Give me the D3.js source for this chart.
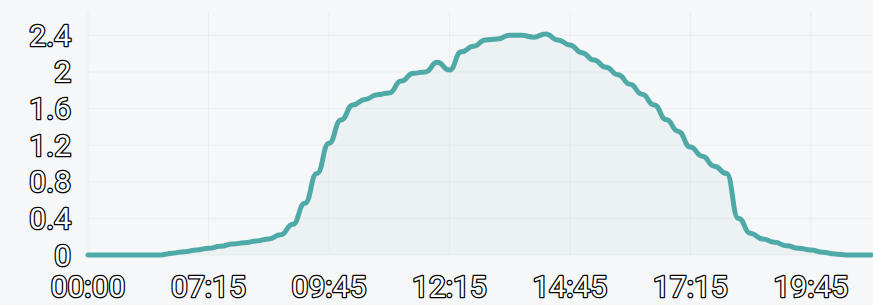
<!DOCTYPE html>
<html>
<head>
<meta charset="utf-8">
<script src="https://cdn.jsdelivr.net/npm/d3@7"></script>
<style>
  html, body { margin: 0; padding: 0; background: #f6f7f9; }
  svg { display: block; }
  .lbl { font-family: Roboto, sans-serif; font-size: 30px; fill: #fff; stroke: #000; stroke-width: 2.6px; paint-order: stroke; stroke-linejoin: round; }
</style>
</head>
<body>
<svg id="chart"></svg>
<script>
// times: 00:00, then 05:00 .. 21:00 every 15 min
var times = ['00:00']
for (var m = 5 * 60; m <= 21 * 60; m += 15) {
    times.push(String(Math.floor(m / 60)).padStart(2, '0') + ':' + String(m % 60).padStart(2, '0'))
}

var power = [
    0, 0, 0, 0, 0, 0, 0, 0.02, 0.036, 0.055,
    0.073, 0.095, 0.12, 0.135, 0.153, 0.175, 0.22, 0.335, 0.565, 0.89,
    1.22, 1.475, 1.64, 1.70, 1.75, 1.77, 1.90, 1.985, 2.0, 2.105,
    2.02, 2.22, 2.28, 2.35, 2.36, 2.40, 2.40, 2.38, 2.415, 2.35,
    2.295, 2.21, 2.13, 2.05, 1.97, 1.865, 1.755, 1.64, 1.48, 1.35,
    1.18, 1.08, 0.97, 0.89, 0.40, 0.237, 0.175, 0.138, 0.10, 0.073,
    0.055, 0.03, 0.01, 0, 0, 0
]

var xTicks = ['00:00', '07:15', '09:45', '12:15', '14:45', '17:15', '19:45']
var yTicks = [0, 0.4, 0.8, 1.2, 1.6, 2, 2.4]

var width = 873, height = 305
var margin = { top: 12, right: 2, bottom: 50, left: 88 }

var svg = d3.select('#chart')
    .attr('width', width)
    .attr('height', height)

svg.append('rect')
    .attr('width', width)
    .attr('height', height)
    .attr('fill', '#f6f7f9')

var data = times.map(function (t, i) { return { t: t, v: power[i] } })

var x = d3.scalePoint()
    .domain(times)
    .range([margin.left, width - margin.right])

var y = d3.scaleLinear()
    .domain([0, 2.655])
    .range([height - margin.bottom, margin.top])

// grid
svg.append('g')
    .selectAll('line')
    .data(yTicks)
    .enter().append('line')
    .attr('x1', margin.left)
    .attr('x2', width)
    .attr('y1', d => y(d))
    .attr('y2', d => y(d))
    .attr('stroke', '#eaedf0')
    .attr('stroke-width', 1)

svg.append('g')
    .selectAll('line')
    .data(xTicks)
    .enter().append('line')
    .attr('x1', d => x(d))
    .attr('x2', d => x(d))
    .attr('y1', margin.top)
    .attr('y2', y(0))
    .attr('stroke', '#eaedf0')
    .attr('stroke-width', 1)

var area = d3.area()
    .x(d => x(d.t))
    .y0(y(0))
    .y1(d => y(d.v))
    .curve(d3.curveBumpX)

var line = d3.line()
    .x(d => x(d.t))
    .y(d => y(d.v))
    .curve(d3.curveBumpX)

svg.append('path')
    .datum(data)
    .attr('d', area)
    .attr('fill', '#4fa9a6')
    .attr('fill-opacity', 0.06)

svg.append('path')
    .datum(data)
    .attr('d', line)
    .attr('fill', 'none')
    .attr('stroke', '#4fa9a6')
    .attr('stroke-width', 5)
    .attr('stroke-linejoin', 'round')
    .attr('stroke-linecap', 'round')

// y labels
svg.append('g')
    .selectAll('text')
    .data(yTicks)
    .enter().append('text')
    .attr('class', 'lbl')
    .attr('x', 71)
    .attr('y', d => y(d))
    .attr('dy', '0.35em')
    .attr('text-anchor', 'end')
    .text(d => d)

// x labels
svg.append('g')
    .selectAll('text')
    .data(xTicks)
    .enter().append('text')
    .attr('class', 'lbl')
    .attr('x', d => x(d))
    .attr('y', 297)
    .attr('text-anchor', 'middle')
    .text(d => d)
</script>
</body>
</html>
